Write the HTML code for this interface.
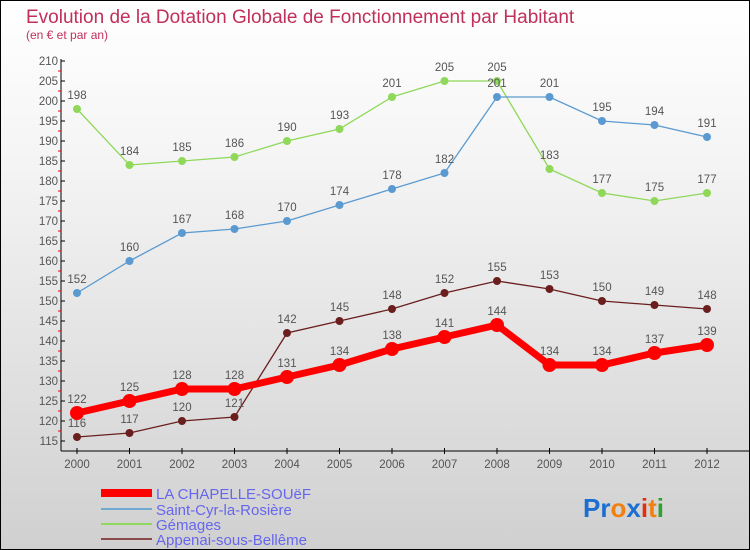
<!DOCTYPE html>
<html><head><meta charset="utf-8"><style>
body{margin:0}
#c{position:relative;width:748px;height:548px;border:1px solid #000;background:linear-gradient(#fff 0%,#f4f4f4 30%,#d0d0d0 100%);font-family:"Liberation Sans",sans-serif;overflow:hidden}
</style></head><body>
<div id="c">
<svg id="s" width="748" height="548" xmlns="http://www.w3.org/2000/svg" font-family="Liberation Sans, sans-serif">
<text x="25" y="22" font-size="19" fill="#c0305a">Evolution de la Dotation Globale de Fonctionnement par Habitant</text>
<text x="25" y="38" font-size="12" fill="#c0305a">(en € et par an)</text>
<g id="axes"></g><g id="series"></g>
<g>
<line x1="100" y1="492" x2="151" y2="492" stroke="#ff0000" stroke-width="8"/><text x="155" y="498" font-size="15" fill="#6666ee">LA CHAPELLE-SOUëF</text>
<line x1="100" y1="508" x2="151" y2="508" stroke="#6fa8d0" stroke-width="2"/><text x="155" y="514" font-size="15" fill="#6666ee">Saint-Cyr-la-Rosière</text>
<line x1="100" y1="523" x2="151" y2="523" stroke="#90d860" stroke-width="2"/><text x="155" y="529" font-size="15" fill="#6666ee">Gémages</text>
<line x1="100" y1="538" x2="151" y2="538" stroke="#8a4a4a" stroke-width="2"/><text x="155" y="544" font-size="15" fill="#6666ee">Appenai-sous-Bellême</text>
</g>
<g font-size="26" font-weight="bold">
<text x="582" y="516"><tspan fill="#1a6fd0">Pr</tspan><tspan fill="#f08010">o</tspan><tspan fill="#1a6fd0">x</tspan><tspan fill="#e03010">i</tspan><tspan fill="#f08010">t</tspan><tspan fill="#30a030">i</tspan></text>
</g>
</svg>
</div>
<script>
const years=[2000,2001,2002,2003,2004,2005,2006,2007,2008,2009,2010,2011,2012];
const chapelle=[122,125,128,128,131,134,138,141,144,134,134,137,139];
const saintCyr=[152,160,167,168,170,174,178,182,201,201,195,194,191];
const gemages=[198,184,185,186,190,193,201,205,205,183,177,175,177];
const appenai=[116,117,120,121,142,145,148,152,155,153,150,149,148];
const yTicks=[115,120,125,130,135,140,145,150,155,160,165,170,175,180,185,190,195,200,205,210];
const NS="http://www.w3.org/2000/svg";
const X=i=>76+i*52.5, Y=v=>60+(210-v)*4;
function mk(t,a,p){const e=document.createElementNS(NS,t);for(const k in a)e.setAttribute(k,a[k]);p.appendChild(e);return e;}
const ax=document.getElementById('axes');
const ya=mk('line',{x1:60,y1:58,x2:60,y2:450,stroke:'#000'},ax);


const xa=mk('line',{x1:60,y1:450,x2:748,y2:450,stroke:'#000'},ax);


yTicks.forEach(v=>{mk('line',{x1:60,x2:64,y1:Y(v),y2:Y(v),stroke:'#000'},ax);
 if(v<210)mk('line',{x1:57,x2:60,y1:Y(v)-10,y2:Y(v)-10,stroke:'#e00'},ax);
 const t=mk('text',{x:57,y:Y(v)+4,'text-anchor':'end','font-size':11.5,fill:'#555'},ax);t.textContent=v;
 
 });
years.forEach((y,i)=>{mk('line',{x1:X(i),x2:X(i),y1:447,y2:453,stroke:'#000'},ax);
 const t=mk('text',{x:X(i),y:467,'text-anchor':'middle','font-size':11.5,fill:'#555'},ax);t.textContent=y;
 
 });
const sg=document.getElementById('series');
function draw(vals,col,w,r,name){const g=mk('g',{},sg);
 
 
 mk('polyline',{points:vals.map((v,i)=>X(i)+','+Y(v)).join(' '),fill:'none',stroke:col,'stroke-width':w},g);
 vals.forEach((v,i)=>{mk('circle',{cx:X(i),cy:Y(v),r:r,fill:col},g);
  const t=mk('text',{x:X(i),y:Y(v)-10,'text-anchor':'middle','font-size':11.5,fill:'#555'},g);t.textContent=v;});}
draw(appenai,'#6a1e1e',1.3,4,'series-appenai');
draw(gemages,'#8fd85a',1.3,4,'series-gemages');
draw(saintCyr,'#5a9ad0',1.3,4,'series-saint-cyr');
draw(chapelle,'#ff0000',7,7,'series-la-chapelle');
</script>
</body></html>
